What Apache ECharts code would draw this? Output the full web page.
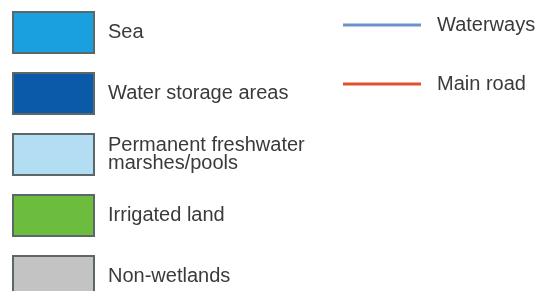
<!DOCTYPE html>
<html>
<head>
<meta charset="utf-8">
<script src="https://cdn.jsdelivr.net/npm/echarts@6/dist/echarts.min.js"></script>
<style>
  html, body { margin: 0; padding: 0; background: #fff; }
  #main { width: 543px; height: 291px; }
</style>
</head>
<body>
<div id="main"></div>
<script>
// legend entries (area classes and line features)
const areaNames = ['Sea', 'Water storage areas', 'Permanent freshwater\nmarshes/pools', 'Irrigated land', 'Non-wetlands'];
const areaColors = ['#1a9fdf', '#0b5aa9', '#b3ddf2', '#6cbd3e', '#c3c3c3'];
const lineNames = ['Waterways', 'Main road'];
const lineColors = ['#6b93c9', '#e2512b'];
const lineWidths = [2, 3];

const chart = echarts.init(document.getElementById('main'));

const series = [];
areaNames.forEach((n, i) => {
  series.push({
    name: n,
    type: 'bar',
    data: [],
    itemStyle: { color: areaColors[i], borderColor: '#5c6868', borderWidth: 1.5 }
  });
});
lineNames.forEach((n, i) => {
  series.push({
    name: n,
    type: 'line',
    data: [],
    lineStyle: { color: lineColors[i], width: lineWidths[i] },
    itemStyle: { color: lineColors[i] }
  });
});

const txt = {
  color: '#3a3a3a',
  fontFamily: 'Liberation Sans, Arial, sans-serif',
  fontSize: 20,
  lineHeight: 18
};

chart.setOption({
  animation: false,
  xAxis: { show: false, type: 'category', data: [] },
  yAxis: { show: false, type: 'value' },
  grid: { left: 0, right: 0, top: 0, bottom: 0 },
  legend: [
    {
      orient: 'vertical',
      left: 12,
      top: 11,
      height: 400, // let the last swatch run off the bottom instead of wrapping
      padding: 0,
      itemWidth: 81,
      itemHeight: 41,
      itemGap: 18,
      selectedMode: false,
      icon: 'rect',
      data: areaNames,
      textStyle: Object.assign({ padding: [0, 0, 0, 9] }, txt)
    },
    {
      orient: 'vertical',
      left: 343,
      top: 14,
      padding: 0,
      itemWidth: 78,
      itemHeight: 3,
      itemGap: 37,
      selectedMode: false,
      data: lineNames.map((n, i) => ({
        name: n,
        icon: 'rect',
        itemStyle: { color: lineColors[i], borderWidth: 0 }
      })),
      textStyle: Object.assign({ padding: [0, 0, 0, 11] }, txt, { lineHeight: 22 })
    }
  ],
  series: series
});
</script>
</body>
</html>
